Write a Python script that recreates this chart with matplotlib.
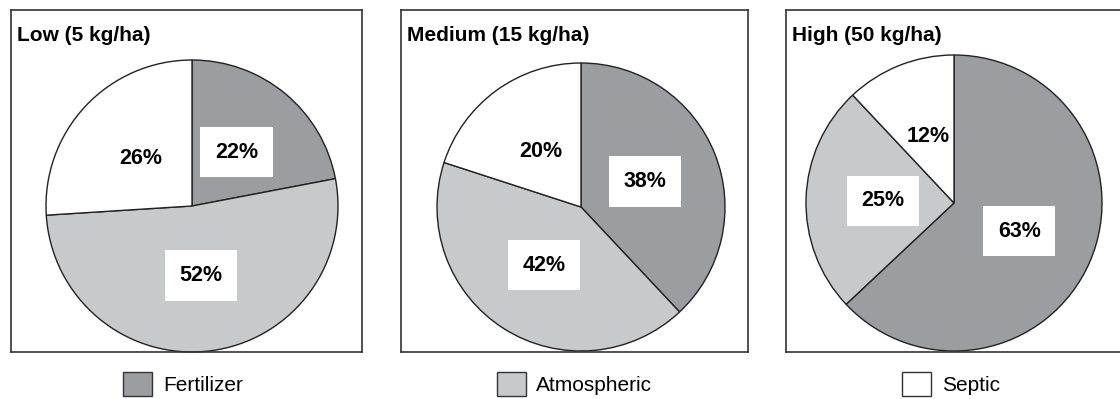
import matplotlib
matplotlib.use("Agg")
import matplotlib.pyplot as plt
from matplotlib.patches import Patch

plt.rcParams['font.family'] = ['Liberation Sans', 'DejaVu Sans']

# data
sources = ['Fertilizer', 'Atmospheric', 'Septic']
titles = ['Low (5 kg/ha)', 'Medium (15 kg/ha)', 'High (50 kg/ha)']
low = [22, 52, 26]
medium = [38, 42, 20]
high = [63, 25, 12]
shares = [low, medium, high]

colors = ['#9c9da1', '#c8c9cb', '#ffffff']

# panel geometry in pixels
lefts = [11, 401, 786]
widths = [351, 347, 347]
centers = [(181, 146), (180, 145), (168, 149)]
radii = [146, 144, 148]
legend_x = [0.49, 0.5, 0.475]

fig = plt.figure(figsize=(11.2, 3.99), dpi=100)

for i in range(3):
    ax = fig.add_axes([lefts[i] / 1120, 47 / 399, widths[i] / 1120, 342 / 399])
    wedges, texts, autotexts = ax.pie(
        shares[i], colors=colors, startangle=90, counterclock=False,
        center=centers[i], radius=radii[i], frame=True,
        autopct='%d%%', pctdistance=0.48,
        wedgeprops=dict(edgecolor='#222222', linewidth=1.0),
        textprops=dict(fontsize=15.5, fontweight='bold', color='black'))
    for j, t in enumerate(autotexts):
        if j < 2:
            t.set_bbox(dict(facecolor='white', edgecolor='none',
                            boxstyle='square,pad=0.68'))
    ax.set_xlim(0, widths[i])
    ax.set_ylim(0, 342)
    ax.set_aspect('auto')
    ax.set_xticks([])
    ax.set_yticks([])
    for s in ax.spines.values():
        s.set_linewidth(1.2)
        s.set_color('#333333')
    ax.text(6 / widths[i], 0.925, titles[i], transform=ax.transAxes,
            fontsize=15, fontweight='bold', va='center', ha='left')
    h = Patch(facecolor=colors[i], edgecolor='#333333', linewidth=1.0)
    ax.legend(handles=[h], labels=[sources[i]], loc='upper center',
              bbox_to_anchor=(legend_x[i], -0.058), frameon=False,
              fontsize=15, handlelength=1.4, handleheight=1.4,
              handletextpad=0.5, borderaxespad=0, borderpad=0)

fig.savefig('out.png', dpi=100)
